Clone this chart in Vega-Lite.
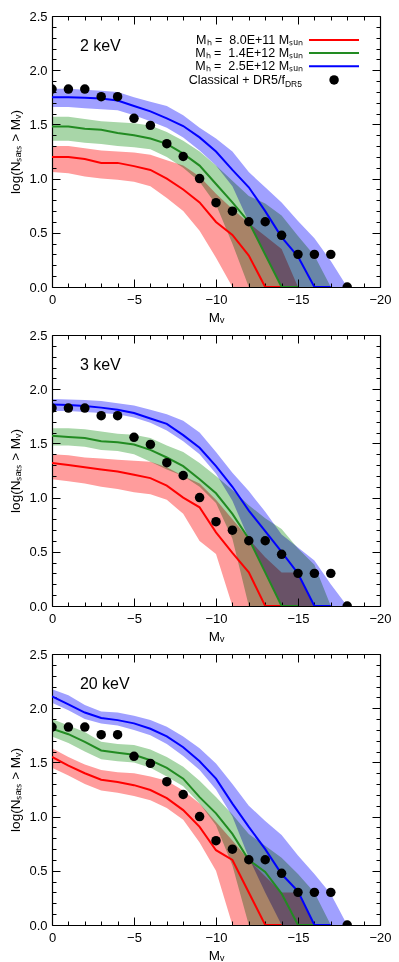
{
  "$schema": "https://vega.github.io/schema/vega-lite/v6.json",
  "background": "white",
  "padding": {"left": 8, "top": 10, "right": 4, "bottom": 4},
  "spacing": 48,
  "bounds": "flush",
  "config": {
    "view": {"stroke": null},
    "font": "Liberation Sans",
    "axis": {"grid": false, "domainColor": "black", "domainWidth": 1.2, "tickColor": "black", "tickWidth": 1, "labelColor": "black", "labelFont": "Liberation Sans", "labelFontSize": 13, "titleFont": "Liberation Sans", "titleFontSize": 13.5, "titleFontWeight": "normal", "titleColor": "black", "labelFlush": false, "labelOverlap": false}
  },
  "datasets": {
    "obs": [
      {"M": 0, "logN": 1.826}, {"M": -1, "logN": 1.826}, {"M": -2, "logN": 1.826}, {"M": -3, "logN": 1.756}, {"M": -4, "logN": 1.756},
      {"M": -5, "logN": 1.556}, {"M": -6, "logN": 1.491}, {"M": -7, "logN": 1.322}, {"M": -8, "logN": 1.204}, {"M": -9, "logN": 1.0},
      {"M": -10, "logN": 0.778}, {"M": -11, "logN": 0.699}, {"M": -12, "logN": 0.602}, {"M": -13, "logN": 0.602}, {"M": -14, "logN": 0.477},
      {"M": -15, "logN": 0.301}, {"M": -16, "logN": 0.301}, {"M": -17, "logN": 0.301}, {"M": -18, "logN": 0}
    ],
    "bands": [
      {"panel":"2 keV","mass":"8.0E+11","M":0,"y":1.2,"lo":1.06,"hi":1.3},
      {"panel":"2 keV","mass":"8.0E+11","M":-1,"y":1.2,"lo":1.05,"hi":1.3},
      {"panel":"2 keV","mass":"8.0E+11","M":-2,"y":1.18,"lo":1.02,"hi":1.28},
      {"panel":"2 keV","mass":"8.0E+11","M":-3,"y":1.145,"lo":1.0,"hi":1.26},
      {"panel":"2 keV","mass":"8.0E+11","M":-4,"y":1.145,"lo":0.99,"hi":1.25},
      {"panel":"2 keV","mass":"8.0E+11","M":-5,"y":1.115,"lo":0.97,"hi":1.24},
      {"panel":"2 keV","mass":"8.0E+11","M":-6,"y":1.08,"lo":0.93,"hi":1.22},
      {"panel":"2 keV","mass":"8.0E+11","M":-7,"y":1.0,"lo":0.82,"hi":1.17},
      {"panel":"2 keV","mass":"8.0E+11","M":-8,"y":0.9,"lo":0.7,"hi":1.12},
      {"panel":"2 keV","mass":"8.0E+11","M":-9,"y":0.78,"lo":0.52,"hi":1.02},
      {"panel":"2 keV","mass":"8.0E+11","M":-10,"y":0.6,"lo":0.27,"hi":0.86},
      {"panel":"2 keV","mass":"8.0E+11","M":-11,"y":0.48,"lo":0,"hi":0.72},
      {"panel":"2 keV","mass":"8.0E+11","M":-12,"y":0.29,"lo":0,"hi":0.59},
      {"panel":"2 keV","mass":"8.0E+11","M":-13,"y":0,"lo":0,"hi":0.47},
      {"panel":"2 keV","mass":"8.0E+11","M":-14,"y":0,"lo":0,"hi":0.35},
      {"panel":"2 keV","mass":"8.0E+11","M":-15,"y":null,"lo":0,"hi":0},
      {"panel":"2 keV","mass":"1.4E+12","M":0,"y":1.48,"lo":1.35,"hi":1.57},
      {"panel":"2 keV","mass":"1.4E+12","M":-1,"y":1.48,"lo":1.35,"hi":1.57},
      {"panel":"2 keV","mass":"1.4E+12","M":-2,"y":1.46,"lo":1.33,"hi":1.55},
      {"panel":"2 keV","mass":"1.4E+12","M":-3,"y":1.45,"lo":1.32,"hi":1.53},
      {"panel":"2 keV","mass":"1.4E+12","M":-4,"y":1.42,"lo":1.3,"hi":1.52},
      {"panel":"2 keV","mass":"1.4E+12","M":-5,"y":1.4,"lo":1.29,"hi":1.51},
      {"panel":"2 keV","mass":"1.4E+12","M":-6,"y":1.37,"lo":1.27,"hi":1.49},
      {"panel":"2 keV","mass":"1.4E+12","M":-7,"y":1.32,"lo":1.2,"hi":1.43},
      {"panel":"2 keV","mass":"1.4E+12","M":-8,"y":1.23,"lo":1.1,"hi":1.35},
      {"panel":"2 keV","mass":"1.4E+12","M":-9,"y":1.12,"lo":0.97,"hi":1.25},
      {"panel":"2 keV","mass":"1.4E+12","M":-10,"y":0.95,"lo":0.76,"hi":1.12},
      {"panel":"2 keV","mass":"1.4E+12","M":-11,"y":0.78,"lo":0.4,"hi":0.98},
      {"panel":"2 keV","mass":"1.4E+12","M":-12,"y":0.6,"lo":0,"hi":0.84},
      {"panel":"2 keV","mass":"1.4E+12","M":-13,"y":0.3,"lo":0,"hi":0.77},
      {"panel":"2 keV","mass":"1.4E+12","M":-14,"y":0,"lo":0,"hi":0.66},
      {"panel":"2 keV","mass":"1.4E+12","M":-15,"y":0,"lo":0,"hi":0.47},
      {"panel":"2 keV","mass":"1.4E+12","M":-16,"y":null,"lo":0,"hi":0.29},
      {"panel":"2 keV","mass":"1.4E+12","M":-17,"y":null,"lo":0,"hi":0},
      {"panel":"2 keV","mass":"2.5E+12","M":0,"y":1.75,"lo":1.66,"hi":1.83},
      {"panel":"2 keV","mass":"2.5E+12","M":-1,"y":1.75,"lo":1.66,"hi":1.83},
      {"panel":"2 keV","mass":"2.5E+12","M":-2,"y":1.745,"lo":1.65,"hi":1.82},
      {"panel":"2 keV","mass":"2.5E+12","M":-3,"y":1.74,"lo":1.64,"hi":1.81},
      {"panel":"2 keV","mass":"2.5E+12","M":-4,"y":1.72,"lo":1.63,"hi":1.8},
      {"panel":"2 keV","mass":"2.5E+12","M":-5,"y":1.67,"lo":1.585,"hi":1.75},
      {"panel":"2 keV","mass":"2.5E+12","M":-6,"y":1.62,"lo":1.53,"hi":1.71},
      {"panel":"2 keV","mass":"2.5E+12","M":-7,"y":1.555,"lo":1.47,"hi":1.67},
      {"panel":"2 keV","mass":"2.5E+12","M":-8,"y":1.485,"lo":1.38,"hi":1.585},
      {"panel":"2 keV","mass":"2.5E+12","M":-9,"y":1.38,"lo":1.26,"hi":1.47},
      {"panel":"2 keV","mass":"2.5E+12","M":-10,"y":1.25,"lo":1.12,"hi":1.37},
      {"panel":"2 keV","mass":"2.5E+12","M":-11,"y":1.08,"lo":0.93,"hi":1.25},
      {"panel":"2 keV","mass":"2.5E+12","M":-12,"y":0.92,"lo":0.6,"hi":1.06},
      {"panel":"2 keV","mass":"2.5E+12","M":-13,"y":0.7,"lo":0.3,"hi":0.92},
      {"panel":"2 keV","mass":"2.5E+12","M":-14,"y":0.46,"lo":0,"hi":0.78},
      {"panel":"2 keV","mass":"2.5E+12","M":-15,"y":0.28,"lo":0,"hi":0.61},
      {"panel":"2 keV","mass":"2.5E+12","M":-16,"y":0,"lo":0,"hi":0.45},
      {"panel":"2 keV","mass":"2.5E+12","M":-17,"y":0,"lo":0,"hi":0.24},
      {"panel":"2 keV","mass":"2.5E+12","M":-18,"y":null,"lo":0,"hi":0},

      {"panel":"3 keV","mass":"8.0E+11","M":0,"y":1.32,"lo":1.17,"hi":1.4},
      {"panel":"3 keV","mass":"8.0E+11","M":-1,"y":1.3,"lo":1.15,"hi":1.39},
      {"panel":"3 keV","mass":"8.0E+11","M":-2,"y":1.28,"lo":1.13,"hi":1.37},
      {"panel":"3 keV","mass":"8.0E+11","M":-3,"y":1.26,"lo":1.1,"hi":1.36},
      {"panel":"3 keV","mass":"8.0E+11","M":-4,"y":1.24,"lo":1.08,"hi":1.35},
      {"panel":"3 keV","mass":"8.0E+11","M":-5,"y":1.21,"lo":1.05,"hi":1.34},
      {"panel":"3 keV","mass":"8.0E+11","M":-6,"y":1.18,"lo":1.03,"hi":1.33},
      {"panel":"3 keV","mass":"8.0E+11","M":-7,"y":1.11,"lo":0.98,"hi":1.28},
      {"panel":"3 keV","mass":"8.0E+11","M":-8,"y":1.0,"lo":0.85,"hi":1.2},
      {"panel":"3 keV","mass":"8.0E+11","M":-9,"y":0.91,"lo":0.6,"hi":1.13},
      {"panel":"3 keV","mass":"8.0E+11","M":-10,"y":0.68,"lo":0.48,"hi":0.98},
      {"panel":"3 keV","mass":"8.0E+11","M":-11,"y":0.49,"lo":0,"hi":0.8},
      {"panel":"3 keV","mass":"8.0E+11","M":-12,"y":0.31,"lo":0,"hi":0.62},
      {"panel":"3 keV","mass":"8.0E+11","M":-13,"y":0,"lo":0,"hi":0.45},
      {"panel":"3 keV","mass":"8.0E+11","M":-14,"y":0,"lo":0,"hi":0.31},
      {"panel":"3 keV","mass":"8.0E+11","M":-15,"y":null,"lo":0,"hi":0.31},
      {"panel":"3 keV","mass":"8.0E+11","M":-16,"y":null,"lo":0,"hi":0},
      {"panel":"3 keV","mass":"1.4E+12","M":0,"y":1.57,"lo":1.48,"hi":1.64},
      {"panel":"3 keV","mass":"1.4E+12","M":-1,"y":1.56,"lo":1.48,"hi":1.64},
      {"panel":"3 keV","mass":"1.4E+12","M":-2,"y":1.55,"lo":1.47,"hi":1.63},
      {"panel":"3 keV","mass":"1.4E+12","M":-3,"y":1.52,"lo":1.44,"hi":1.61},
      {"panel":"3 keV","mass":"1.4E+12","M":-4,"y":1.51,"lo":1.43,"hi":1.59},
      {"panel":"3 keV","mass":"1.4E+12","M":-5,"y":1.49,"lo":1.4,"hi":1.58},
      {"panel":"3 keV","mass":"1.4E+12","M":-6,"y":1.44,"lo":1.33,"hi":1.55},
      {"panel":"3 keV","mass":"1.4E+12","M":-7,"y":1.37,"lo":1.26,"hi":1.48},
      {"panel":"3 keV","mass":"1.4E+12","M":-8,"y":1.29,"lo":1.2,"hi":1.42},
      {"panel":"3 keV","mass":"1.4E+12","M":-9,"y":1.17,"lo":1.1,"hi":1.32},
      {"panel":"3 keV","mass":"1.4E+12","M":-10,"y":1.04,"lo":0.95,"hi":1.2},
      {"panel":"3 keV","mass":"1.4E+12","M":-11,"y":0.85,"lo":0.62,"hi":1.07},
      {"panel":"3 keV","mass":"1.4E+12","M":-12,"y":0.62,"lo":0,"hi":0.93},
      {"panel":"3 keV","mass":"1.4E+12","M":-13,"y":0.31,"lo":0,"hi":0.81},
      {"panel":"3 keV","mass":"1.4E+12","M":-14,"y":0,"lo":0,"hi":0.71},
      {"panel":"3 keV","mass":"1.4E+12","M":-15,"y":0,"lo":0,"hi":0.53},
      {"panel":"3 keV","mass":"1.4E+12","M":-16,"y":null,"lo":0,"hi":0.38},
      {"panel":"3 keV","mass":"1.4E+12","M":-17,"y":null,"lo":0,"hi":0},
      {"panel":"3 keV","mass":"2.5E+12","M":0,"y":1.86,"lo":1.8,"hi":1.91},
      {"panel":"3 keV","mass":"2.5E+12","M":-1,"y":1.855,"lo":1.8,"hi":1.905},
      {"panel":"3 keV","mass":"2.5E+12","M":-2,"y":1.845,"lo":1.79,"hi":1.9},
      {"panel":"3 keV","mass":"2.5E+12","M":-3,"y":1.83,"lo":1.78,"hi":1.89},
      {"panel":"3 keV","mass":"2.5E+12","M":-4,"y":1.81,"lo":1.77,"hi":1.87},
      {"panel":"3 keV","mass":"2.5E+12","M":-5,"y":1.78,"lo":1.74,"hi":1.85},
      {"panel":"3 keV","mass":"2.5E+12","M":-6,"y":1.73,"lo":1.69,"hi":1.81},
      {"panel":"3 keV","mass":"2.5E+12","M":-7,"y":1.68,"lo":1.62,"hi":1.77},
      {"panel":"3 keV","mass":"2.5E+12","M":-8,"y":1.576,"lo":1.52,"hi":1.71},
      {"panel":"3 keV","mass":"2.5E+12","M":-9,"y":1.46,"lo":1.4,"hi":1.6},
      {"panel":"3 keV","mass":"2.5E+12","M":-10,"y":1.29,"lo":1.22,"hi":1.42},
      {"panel":"3 keV","mass":"2.5E+12","M":-11,"y":1.1,"lo":0.97,"hi":1.23},
      {"panel":"3 keV","mass":"2.5E+12","M":-12,"y":0.88,"lo":0.62,"hi":1.06},
      {"panel":"3 keV","mass":"2.5E+12","M":-13,"y":0.69,"lo":0.31,"hi":0.87},
      {"panel":"3 keV","mass":"2.5E+12","M":-14,"y":0.5,"lo":0,"hi":0.66},
      {"panel":"3 keV","mass":"2.5E+12","M":-15,"y":0.3,"lo":0,"hi":0.54},
      {"panel":"3 keV","mass":"2.5E+12","M":-16,"y":0,"lo":0,"hi":0.42},
      {"panel":"3 keV","mass":"2.5E+12","M":-17,"y":0,"lo":0,"hi":0.2},
      {"panel":"3 keV","mass":"2.5E+12","M":-18,"y":null,"lo":0,"hi":0},

      {"panel":"20 keV","mass":"8.0E+11","M":0,"y":1.55,"lo":1.45,"hi":1.63},
      {"panel":"20 keV","mass":"8.0E+11","M":-1,"y":1.47,"lo":1.38,"hi":1.55},
      {"panel":"20 keV","mass":"8.0E+11","M":-2,"y":1.4,"lo":1.3,"hi":1.48},
      {"panel":"20 keV","mass":"8.0E+11","M":-3,"y":1.34,"lo":1.24,"hi":1.43},
      {"panel":"20 keV","mass":"8.0E+11","M":-4,"y":1.32,"lo":1.22,"hi":1.41},
      {"panel":"20 keV","mass":"8.0E+11","M":-5,"y":1.29,"lo":1.19,"hi":1.4},
      {"panel":"20 keV","mass":"8.0E+11","M":-6,"y":1.245,"lo":1.15,"hi":1.37},
      {"panel":"20 keV","mass":"8.0E+11","M":-7,"y":1.17,"lo":1.08,"hi":1.33},
      {"panel":"20 keV","mass":"8.0E+11","M":-8,"y":1.06,"lo":0.97,"hi":1.24},
      {"panel":"20 keV","mass":"8.0E+11","M":-9,"y":0.905,"lo":0.76,"hi":1.12},
      {"panel":"20 keV","mass":"8.0E+11","M":-10,"y":0.69,"lo":0.5,"hi":0.95},
      {"panel":"20 keV","mass":"8.0E+11","M":-11,"y":0.6,"lo":0,"hi":0.78},
      {"panel":"20 keV","mass":"8.0E+11","M":-12,"y":0.3,"lo":0,"hi":0.6},
      {"panel":"20 keV","mass":"8.0E+11","M":-13,"y":0,"lo":0,"hi":0.45},
      {"panel":"20 keV","mass":"8.0E+11","M":-14,"y":0,"lo":0,"hi":0.3},
      {"panel":"20 keV","mass":"8.0E+11","M":-15,"y":null,"lo":0,"hi":0.3},
      {"panel":"20 keV","mass":"8.0E+11","M":-16,"y":null,"lo":0,"hi":0},
      {"panel":"20 keV","mass":"1.4E+12","M":0,"y":1.81,"lo":1.74,"hi":1.9},
      {"panel":"20 keV","mass":"1.4E+12","M":-1,"y":1.76,"lo":1.68,"hi":1.84},
      {"panel":"20 keV","mass":"1.4E+12","M":-2,"y":1.69,"lo":1.6,"hi":1.78},
      {"panel":"20 keV","mass":"1.4E+12","M":-3,"y":1.61,"lo":1.53,"hi":1.69},
      {"panel":"20 keV","mass":"1.4E+12","M":-4,"y":1.59,"lo":1.51,"hi":1.67},
      {"panel":"20 keV","mass":"1.4E+12","M":-5,"y":1.57,"lo":1.5,"hi":1.66},
      {"panel":"20 keV","mass":"1.4E+12","M":-6,"y":1.52,"lo":1.45,"hi":1.62},
      {"panel":"20 keV","mass":"1.4E+12","M":-7,"y":1.45,"lo":1.37,"hi":1.55},
      {"panel":"20 keV","mass":"1.4E+12","M":-8,"y":1.35,"lo":1.28,"hi":1.46},
      {"panel":"20 keV","mass":"1.4E+12","M":-9,"y":1.18,"lo":1.12,"hi":1.33},
      {"panel":"20 keV","mass":"1.4E+12","M":-10,"y":1.03,"lo":0.92,"hi":1.18},
      {"panel":"20 keV","mass":"1.4E+12","M":-11,"y":0.84,"lo":0.55,"hi":1.02},
      {"panel":"20 keV","mass":"1.4E+12","M":-12,"y":0.6,"lo":0,"hi":0.84},
      {"panel":"20 keV","mass":"1.4E+12","M":-13,"y":0.49,"lo":0,"hi":0.73},
      {"panel":"20 keV","mass":"1.4E+12","M":-14,"y":0.29,"lo":0,"hi":0.62},
      {"panel":"20 keV","mass":"1.4E+12","M":-15,"y":0,"lo":0,"hi":0.47},
      {"panel":"20 keV","mass":"1.4E+12","M":-16,"y":0,"lo":0,"hi":0.3},
      {"panel":"20 keV","mass":"1.4E+12","M":-17,"y":null,"lo":0,"hi":0},
      {"panel":"20 keV","mass":"2.5E+12","M":0,"y":2.11,"lo":2.05,"hi":2.175},
      {"panel":"20 keV","mass":"2.5E+12","M":-1,"y":2.035,"lo":1.98,"hi":2.12},
      {"panel":"20 keV","mass":"2.5E+12","M":-2,"y":1.96,"lo":1.9,"hi":2.03},
      {"panel":"20 keV","mass":"2.5E+12","M":-3,"y":1.91,"lo":1.86,"hi":1.97},
      {"panel":"20 keV","mass":"2.5E+12","M":-4,"y":1.89,"lo":1.84,"hi":1.96},
      {"panel":"20 keV","mass":"2.5E+12","M":-5,"y":1.86,"lo":1.8,"hi":1.93},
      {"panel":"20 keV","mass":"2.5E+12","M":-6,"y":1.81,"lo":1.75,"hi":1.89},
      {"panel":"20 keV","mass":"2.5E+12","M":-7,"y":1.74,"lo":1.67,"hi":1.83},
      {"panel":"20 keV","mass":"2.5E+12","M":-8,"y":1.64,"lo":1.56,"hi":1.74},
      {"panel":"20 keV","mass":"2.5E+12","M":-9,"y":1.51,"lo":1.43,"hi":1.63},
      {"panel":"20 keV","mass":"2.5E+12","M":-10,"y":1.35,"lo":1.25,"hi":1.49},
      {"panel":"20 keV","mass":"2.5E+12","M":-11,"y":1.12,"lo":1.0,"hi":1.3},
      {"panel":"20 keV","mass":"2.5E+12","M":-12,"y":0.905,"lo":0.62,"hi":1.1},
      {"panel":"20 keV","mass":"2.5E+12","M":-13,"y":0.7,"lo":0.3,"hi":0.96},
      {"panel":"20 keV","mass":"2.5E+12","M":-14,"y":0.47,"lo":0,"hi":0.83},
      {"panel":"20 keV","mass":"2.5E+12","M":-15,"y":0.31,"lo":0,"hi":0.64},
      {"panel":"20 keV","mass":"2.5E+12","M":-16,"y":0,"lo":0,"hi":0.47},
      {"panel":"20 keV","mass":"2.5E+12","M":-17,"y":0,"lo":0,"hi":0.285},
      {"panel":"20 keV","mass":"2.5E+12","M":-18,"y":null,"lo":0,"hi":0}
    ]
  },
  "vconcat": [
    {
      "width": 328, "height": 271,
      "resolve": {"axis": {"x": "independent", "y": "independent"}},
      "layer": [
        {
          "data": {"name": "bands"},
          "transform": [{"filter": "datum.panel === '2 keV'"}],
          "mark": {"type": "area", "blend": "multiply", "opacity": 1},
          "encoding": {
            "x": {"field": "M", "type": "quantitative", "scale": {"domain": [0, -20], "nice": false, "zero": false},
              "axis": {"orient": "bottom", "values": [0,-1,-2,-3,-4,-5,-6,-7,-8,-9,-10,-11,-12,-13,-14,-15,-16,-17,-18,-19,-20], "labelExpr": "datum.value % 5 === 0 ? datum.label : ''", "tickSize": {"condition": {"test": "datum.value % 5 === 0", "value": -8}, "value": -4}, "labelPadding": 14, "title": "Mᵥ", "titlePadding": 0}},
            "y": {"field": "hi", "type": "quantitative", "scale": {"domain": [0, 2.5], "nice": false, "zero": false},
              "axis": {"orient": "left", "values": [0,0.1,0.2,0.3,0.4,0.5,0.6,0.7,0.8,0.9,1,1.1,1.2,1.3,1.4,1.5,1.6,1.7,1.8,1.9,2,2.1,2.2,2.3,2.4,2.5], "labelExpr": "round(datum.value*10) % 5 === 0 ? format(datum.value, '.1f') : ''", "tickSize": {"condition": {"test": "round(datum.value*10) % 5 === 0", "value": -8}, "value": -4}, "labelPadding": 13, "title": "log(Nₛₐₜₛ > Mᵥ)", "titlePadding": 6}},
            "y2": {"field": "lo"},
            "fill": {"field": "mass", "type": "nominal", "scale": {"domain": ["8.0E+11", "1.4E+12", "2.5E+12"], "range": ["#ff9c9c", "#a8d6a8", "#a0a0ff"]}, "legend": null}
          }
        },
        {
          "data": {"name": "bands"},
          "transform": [{"filter": "datum.panel === '2 keV'"}],
          "mark": {"type": "line", "strokeWidth": 2, "clip": true},
          "encoding": {
            "x": {"field": "M", "type": "quantitative", "axis": {"orient": "top", "values": [0,-1,-2,-3,-4,-5,-6,-7,-8,-9,-10,-11,-12,-13,-14,-15,-16,-17,-18,-19,-20], "labels": false, "title": null, "tickSize": {"condition": {"test": "datum.value % 5 === 0", "value": -8}, "value": -4}}},
            "y": {"field": "y", "type": "quantitative", "axis": {"orient": "right", "values": [0,0.1,0.2,0.3,0.4,0.5,0.6,0.7,0.8,0.9,1,1.1,1.2,1.3,1.4,1.5,1.6,1.7,1.8,1.9,2,2.1,2.2,2.3,2.4,2.5], "labels": false, "title": null, "tickSize": {"condition": {"test": "round(datum.value*10) % 5 === 0", "value": -8}, "value": -4}}},
            "stroke": {"field": "mass", "type": "nominal", "scale": {"domain": ["8.0E+11", "1.4E+12", "2.5E+12"], "range": ["#ff0000", "#228b22", "#0000ff"]}, "legend": null}
          }
        },
        {
          "data": {"name": "obs"},
          "mark": {"type": "point", "filled": true, "size": 90, "color": "black", "opacity": 1, "clip": true},
          "encoding": {"x": {"field": "M", "type": "quantitative", "axis": null}, "y": {"field": "logN", "type": "quantitative", "axis": null}}
        },
        {
          "data": {"values": [{"label": "2 keV"}]},
          "mark": {"type": "text", "align": "left", "baseline": "middle", "fontSize": 16, "color": "black"},
          "encoding": {"x": {"datum": -1.7, "type": "quantitative", "axis": null}, "y": {"datum": 2.22, "type": "quantitative", "axis": null}, "text": {"field": "label"}}
        },
        {
          "data": {"values": [{"label": "Mₕ = \u00a08.0E+11 Mₛᵤₙ"}]},
          "mark": {"type": "text", "align": "right", "baseline": "middle", "fontSize": 12.5, "color": "black"},
          "encoding": {"x": {"datum": -15.3, "type": "quantitative", "axis": null}, "y": {"datum": 2.279, "type": "quantitative", "axis": null}, "text": {"field": "label"}}
        },
        {
          "data": {"values": [{"label": "Mₕ = \u00a01.4E+12 Mₛᵤₙ"}]},
          "mark": {"type": "text", "align": "right", "baseline": "middle", "fontSize": 12.5, "color": "black"},
          "encoding": {"x": {"datum": -15.3, "type": "quantitative", "axis": null}, "y": {"datum": 2.159, "type": "quantitative", "axis": null}, "text": {"field": "label"}}
        },
        {
          "data": {"values": [{"label": "Mₕ = \u00a02.5E+12 Mₛᵤₙ"}]},
          "mark": {"type": "text", "align": "right", "baseline": "middle", "fontSize": 12.5, "color": "black"},
          "encoding": {"x": {"datum": -15.3, "type": "quantitative", "axis": null}, "y": {"datum": 2.036, "type": "quantitative", "axis": null}, "text": {"field": "label"}}
        },
        {
          "data": {"values": [{"label": "Classical + DR5/f"}]},
          "mark": {"type": "text", "align": "right", "baseline": "middle", "fontSize": 12.5, "color": "black"},
          "encoding": {"x": {"datum": -14.2, "type": "quantitative", "axis": null}, "y": {"datum": 1.91, "type": "quantitative", "axis": null}, "text": {"field": "label"}}
        },
        {
          "data": {"values": [{"label": "DR5"}]},
          "mark": {"type": "text", "align": "left", "baseline": "middle", "fontSize": 8.5, "dy": 4, "color": "black"},
          "encoding": {"x": {"datum": -14.2, "type": "quantitative", "axis": null}, "y": {"datum": 1.91, "type": "quantitative", "axis": null}, "text": {"field": "label"}}
        },
        {
          "data": {"values": [{}]},
          "mark": {"type": "rule", "strokeWidth": 2, "color": "#ff0000"},
          "encoding": {"x": {"datum": -15.67, "type": "quantitative", "axis": null}, "x2": {"datum": -18.72}, "y": {"datum": 2.279, "type": "quantitative", "axis": null}}
        },
        {
          "data": {"values": [{}]},
          "mark": {"type": "rule", "strokeWidth": 2, "color": "#228b22"},
          "encoding": {"x": {"datum": -15.67, "type": "quantitative", "axis": null}, "x2": {"datum": -18.72}, "y": {"datum": 2.159, "type": "quantitative", "axis": null}}
        },
        {
          "data": {"values": [{}]},
          "mark": {"type": "rule", "strokeWidth": 2, "color": "#0000ff"},
          "encoding": {"x": {"datum": -15.67, "type": "quantitative", "axis": null}, "x2": {"datum": -18.72}, "y": {"datum": 2.036, "type": "quantitative", "axis": null}}
        },
        {
          "data": {"values": [{}]},
          "mark": {"type": "point", "filled": true, "size": 90, "color": "black", "opacity": 1},
          "encoding": {"x": {"datum": -17.2, "type": "quantitative", "axis": null}, "y": {"datum": 1.91, "type": "quantitative", "axis": null}}
        }
      ]
    },
    {
      "width": 328, "height": 271,
      "resolve": {"axis": {"x": "independent", "y": "independent"}},
      "layer": [
        {
          "data": {"name": "bands"},
          "transform": [{"filter": "datum.panel === '3 keV'"}],
          "mark": {"type": "area", "blend": "multiply", "opacity": 1},
          "encoding": {
            "x": {"field": "M", "type": "quantitative", "scale": {"domain": [0, -20], "nice": false, "zero": false},
              "axis": {"orient": "bottom", "values": [0,-1,-2,-3,-4,-5,-6,-7,-8,-9,-10,-11,-12,-13,-14,-15,-16,-17,-18,-19,-20], "labelExpr": "datum.value % 5 === 0 ? datum.label : ''", "tickSize": {"condition": {"test": "datum.value % 5 === 0", "value": -8}, "value": -4}, "labelPadding": 14, "title": "Mᵥ", "titlePadding": 0}},
            "y": {"field": "hi", "type": "quantitative", "scale": {"domain": [0, 2.5], "nice": false, "zero": false},
              "axis": {"orient": "left", "values": [0,0.1,0.2,0.3,0.4,0.5,0.6,0.7,0.8,0.9,1,1.1,1.2,1.3,1.4,1.5,1.6,1.7,1.8,1.9,2,2.1,2.2,2.3,2.4,2.5], "labelExpr": "round(datum.value*10) % 5 === 0 ? format(datum.value, '.1f') : ''", "tickSize": {"condition": {"test": "round(datum.value*10) % 5 === 0", "value": -8}, "value": -4}, "labelPadding": 13, "title": "log(Nₛₐₜₛ > Mᵥ)", "titlePadding": 6}},
            "y2": {"field": "lo"},
            "fill": {"field": "mass", "type": "nominal", "scale": {"domain": ["8.0E+11", "1.4E+12", "2.5E+12"], "range": ["#ff9c9c", "#a8d6a8", "#a0a0ff"]}, "legend": null}
          }
        },
        {
          "data": {"name": "bands"},
          "transform": [{"filter": "datum.panel === '3 keV'"}],
          "mark": {"type": "line", "strokeWidth": 2, "clip": true},
          "encoding": {
            "x": {"field": "M", "type": "quantitative", "axis": {"orient": "top", "values": [0,-1,-2,-3,-4,-5,-6,-7,-8,-9,-10,-11,-12,-13,-14,-15,-16,-17,-18,-19,-20], "labels": false, "title": null, "tickSize": {"condition": {"test": "datum.value % 5 === 0", "value": -8}, "value": -4}}},
            "y": {"field": "y", "type": "quantitative", "axis": {"orient": "right", "values": [0,0.1,0.2,0.3,0.4,0.5,0.6,0.7,0.8,0.9,1,1.1,1.2,1.3,1.4,1.5,1.6,1.7,1.8,1.9,2,2.1,2.2,2.3,2.4,2.5], "labels": false, "title": null, "tickSize": {"condition": {"test": "round(datum.value*10) % 5 === 0", "value": -8}, "value": -4}}},
            "stroke": {"field": "mass", "type": "nominal", "scale": {"domain": ["8.0E+11", "1.4E+12", "2.5E+12"], "range": ["#ff0000", "#228b22", "#0000ff"]}, "legend": null}
          }
        },
        {
          "data": {"name": "obs"},
          "mark": {"type": "point", "filled": true, "size": 90, "color": "black", "opacity": 1, "clip": true},
          "encoding": {"x": {"field": "M", "type": "quantitative", "axis": null}, "y": {"field": "logN", "type": "quantitative", "axis": null}}
        },
        {
          "data": {"values": [{"label": "3 keV"}]},
          "mark": {"type": "text", "align": "left", "baseline": "middle", "fontSize": 16, "color": "black"},
          "encoding": {"x": {"datum": -1.7, "type": "quantitative", "axis": null}, "y": {"datum": 2.22, "type": "quantitative", "axis": null}, "text": {"field": "label"}}
        }
      ]
    },
    {
      "width": 328, "height": 271,
      "resolve": {"axis": {"x": "independent", "y": "independent"}},
      "layer": [
        {
          "data": {"name": "bands"},
          "transform": [{"filter": "datum.panel === '20 keV'"}],
          "mark": {"type": "area", "blend": "multiply", "opacity": 1},
          "encoding": {
            "x": {"field": "M", "type": "quantitative", "scale": {"domain": [0, -20], "nice": false, "zero": false},
              "axis": {"orient": "bottom", "values": [0,-1,-2,-3,-4,-5,-6,-7,-8,-9,-10,-11,-12,-13,-14,-15,-16,-17,-18,-19,-20], "labelExpr": "datum.value % 5 === 0 ? datum.label : ''", "tickSize": {"condition": {"test": "datum.value % 5 === 0", "value": -8}, "value": -4}, "labelPadding": 14, "title": "Mᵥ", "titlePadding": 0}},
            "y": {"field": "hi", "type": "quantitative", "scale": {"domain": [0, 2.5], "nice": false, "zero": false},
              "axis": {"orient": "left", "values": [0,0.1,0.2,0.3,0.4,0.5,0.6,0.7,0.8,0.9,1,1.1,1.2,1.3,1.4,1.5,1.6,1.7,1.8,1.9,2,2.1,2.2,2.3,2.4,2.5], "labelExpr": "round(datum.value*10) % 5 === 0 ? format(datum.value, '.1f') : ''", "tickSize": {"condition": {"test": "round(datum.value*10) % 5 === 0", "value": -8}, "value": -4}, "labelPadding": 13, "title": "log(Nₛₐₜₛ > Mᵥ)", "titlePadding": 6}},
            "y2": {"field": "lo"},
            "fill": {"field": "mass", "type": "nominal", "scale": {"domain": ["8.0E+11", "1.4E+12", "2.5E+12"], "range": ["#ff9c9c", "#a8d6a8", "#a0a0ff"]}, "legend": null}
          }
        },
        {
          "data": {"name": "bands"},
          "transform": [{"filter": "datum.panel === '20 keV'"}],
          "mark": {"type": "line", "strokeWidth": 2, "clip": true},
          "encoding": {
            "x": {"field": "M", "type": "quantitative", "axis": {"orient": "top", "values": [0,-1,-2,-3,-4,-5,-6,-7,-8,-9,-10,-11,-12,-13,-14,-15,-16,-17,-18,-19,-20], "labels": false, "title": null, "tickSize": {"condition": {"test": "datum.value % 5 === 0", "value": -8}, "value": -4}}},
            "y": {"field": "y", "type": "quantitative", "axis": {"orient": "right", "values": [0,0.1,0.2,0.3,0.4,0.5,0.6,0.7,0.8,0.9,1,1.1,1.2,1.3,1.4,1.5,1.6,1.7,1.8,1.9,2,2.1,2.2,2.3,2.4,2.5], "labels": false, "title": null, "tickSize": {"condition": {"test": "round(datum.value*10) % 5 === 0", "value": -8}, "value": -4}}},
            "stroke": {"field": "mass", "type": "nominal", "scale": {"domain": ["8.0E+11", "1.4E+12", "2.5E+12"], "range": ["#ff0000", "#228b22", "#0000ff"]}, "legend": null}
          }
        },
        {
          "data": {"name": "obs"},
          "mark": {"type": "point", "filled": true, "size": 90, "color": "black", "opacity": 1, "clip": true},
          "encoding": {"x": {"field": "M", "type": "quantitative", "axis": null}, "y": {"field": "logN", "type": "quantitative", "axis": null}}
        },
        {
          "data": {"values": [{"label": "20 keV"}]},
          "mark": {"type": "text", "align": "left", "baseline": "middle", "fontSize": 16, "color": "black"},
          "encoding": {"x": {"datum": -1.7, "type": "quantitative", "axis": null}, "y": {"datum": 2.22, "type": "quantitative", "axis": null}, "text": {"field": "label"}}
        }
      ]
    }
  ]
}
